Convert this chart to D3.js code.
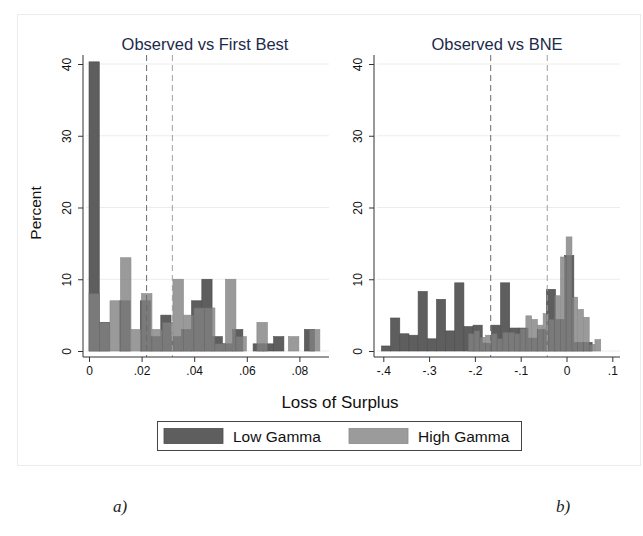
<!DOCTYPE html>
<html lang="en">
<head>
<meta charset="UTF-8">
<title>Loss of Surplus histograms</title>
<script src="https://d3js.org/d3.v7.min.js"></script>
<style>
  body, html { margin: 0; padding: 0; background: #ffffff; }
  svg text { font-family: "Liberation Sans", Arial, sans-serif; }
</style>
</head>
<body>
<div id="chart"></div>
<script>
// ---- data ----
// left panel: Observed vs First Best
var leftLowStart = 0, leftLowWidth = 0.0039;
var leftLowPct = [40.3, 4, 0, 7, 0, 7, 2, 5, 2, 3, 7, 10, 2, 1, 3, 0, 1, 1, 2, 0, 0, 3];
var leftHighStart = 0, leftHighWidth = 0.00399;
var leftHighPct = [8, 4, 7, 13, 3, 8, 3, 4, 10, 5, 6, 6, 1, 10, 2, 0, 4, 0, 0, 2, 0, 3];
var leftRefLines = [0.0219, 0.0317];
var leftTicks = [0, 0.02, 0.04, 0.06, 0.08];

// right panel: Observed vs BNE
var rightLowStart = -0.404, rightLowWidth = 0.02;
var rightLowPct = [0.7, 4.6, 2.4, 2.2, 8.3, 1.7, 7.2, 2.8, 9.5, 3.4, 3.6, 1.1, 3.6, 9.5, 3.2, 3.2, 1.8, 3.0, 8.6, 4.4, 13.3, 1.2, 1.2];
var rightHighStart = -0.2144, rightHighWidth = 0.01257;
var rightHighPct = [2.4, 2.8, 1.9, 2.2, 2.4, 1.7, 2.6, 2.6, 2.4, 3.1, 4.9, 4.4, 3.6, 5.2, 4.4, 7.7, 13.1, 15.9, 7.5, 5.8, 4.7, 0.9, 1.6];
var rightRefLines = [-0.1655, -0.042];
var rightTicks = [-0.4, -0.3, -0.2, -0.1, 0, 0.1];

var yTicks = [0, 10, 20, 30, 40];
var seriesNames = ["Low Gamma", "High Gamma"];

var W = 643, H = 536;
var lowFill = "#5e5e5e", lowStroke = "#4c4c4c";
var highFill = "#828282", highStroke = "#6e6e6e", highOpacity = 0.8;
var titleColor = "#1c2a4c";

var svg = d3.select("#chart").append("svg")
    .attr("width", W).attr("height", H);

// faint outer graph region
svg.append("rect")
    .attr("x", 17.5).attr("y", 14.5)
    .attr("width", 623).attr("height", 451)
    .attr("fill", "#ffffff")
    .attr("stroke", "#ececec");

function fmt(d) {
    if (d === 0) return "0";
    var s = String(+d.toFixed(3));
    return s.replace("0.", ".");
}

// turn a list of percents into bins with edges, dropping empty ones
function toBins(start, width, pct) {
    return pct.map(function(v, i) {
        return {x0: start + i * width, x1: start + (i + 1) * width, v: v};
    }).filter(function(b) { return b.v > 0; });
}

function drawPanel(opt) {
    var x = d3.scaleLinear().domain(opt.xDomain).range(opt.xRange);
    var y = d3.scaleLinear().domain([0, 40]).range([351, 64]);
    var g = svg.append("g");
    var axisLeftX = opt.axisX, axisY = 357;

    // gridlines
    g.selectAll(".grid").data(yTicks).enter().append("line")
        .attr("x1", axisLeftX + 3).attr("x2", opt.plotRight)
        .attr("y1", function(d) { return y(d); })
        .attr("y2", function(d) { return y(d); })
        .attr("stroke", "#ececec").attr("stroke-width", 1);

    // Low Gamma bars
    g.selectAll(".low").data(toBins(opt.lowStart, opt.lowWidth, opt.lowPct)).enter().append("rect")
        .attr("x", function(d) { return x(d.x0); })
        .attr("width", function(d) { return x(d.x1) - x(d.x0); })
        .attr("y", function(d) { return y(d.v); })
        .attr("height", function(d) { return y(0) - y(d.v); })
        .attr("fill", lowFill).attr("stroke", lowStroke).attr("stroke-width", 0.6);

    // High Gamma bars on top, partly see-through
    var hg = g.append("g").attr("opacity", highOpacity);
    hg.selectAll(".high").data(toBins(opt.highStart, opt.highWidth, opt.highPct)).enter().append("rect")
        .attr("x", function(d) { return x(d.x0); })
        .attr("width", function(d) { return x(d.x1) - x(d.x0); })
        .attr("y", function(d) { return y(d.v); })
        .attr("height", function(d) { return y(0) - y(d.v); })
        .attr("fill", highFill).attr("stroke", highStroke).attr("stroke-width", 0.6);

    // reference lines
    g.selectAll(".ref").data(opt.refLines).enter().append("line")
        .attr("x1", function(d) { return x(d); })
        .attr("x2", function(d) { return x(d); })
        .attr("y1", 55).attr("y2", axisY)
        .attr("stroke", function(d, i) { return i === 0 ? "#6a6a6a" : "#a0a0a0"; })
        .attr("stroke-width", 1)
        .attr("stroke-dasharray", "6,4");

    // y axis
    var ya = g.append("g")
        .attr("transform", "translate(" + axisLeftX + ",0)")
        .call(d3.axisLeft(y).tickValues(yTicks).tickSize(5).tickSizeOuter(0).tickFormat(fmt));
    ya.select(".domain").attr("d", "M0,55V" + axisY).attr("stroke", "#333");
    ya.selectAll(".tick line").attr("stroke", "#333");
    ya.selectAll(".tick text")
        .attr("transform", "rotate(-90)")
        .attr("x", 0).attr("y", -12).attr("dy", 0)
        .style("text-anchor", "middle")
        .style("font-size", "12px").attr("fill", "#111");

    // x axis
    var xa = g.append("g")
        .attr("transform", "translate(0," + axisY + ")")
        .call(d3.axisBottom(x).tickValues(opt.xTicks).tickSize(5).tickSizeOuter(0).tickFormat(fmt));
    xa.select(".domain").attr("d", "M" + axisLeftX + ",0H" + opt.plotRight).attr("stroke", "#333");
    xa.selectAll(".tick line").attr("stroke", "#333");
    xa.selectAll(".tick text").attr("y", 9).style("font-size", "12px").attr("fill", "#111");

    // title
    svg.append("text")
        .attr("x", opt.titleX).attr("y", 50)
        .attr("text-anchor", "middle")
        .style("font-size", "16.5px")
        .attr("fill", titleColor)
        .text(opt.title);
}

drawPanel({
    title: "Observed vs First Best", titleX: 205,
    xDomain: [0, 0.08], xRange: [89, 299.4], axisX: 83, plotRight: 329,
    lowStart: leftLowStart, lowWidth: leftLowWidth, lowPct: leftLowPct,
    highStart: leftHighStart, highWidth: leftHighWidth, highPct: leftHighPct,
    refLines: leftRefLines, xTicks: leftTicks
});

drawPanel({
    title: "Observed vs BNE", titleX: 497,
    xDomain: [-0.4, 0.1], xRange: [383.3, 612.3], axisX: 374, plotRight: 620,
    lowStart: rightLowStart, lowWidth: rightLowWidth, lowPct: rightLowPct,
    highStart: rightHighStart, highWidth: rightHighWidth, highPct: rightHighPct,
    refLines: rightRefLines, xTicks: rightTicks
});

// axis titles
svg.append("text")
    .attr("transform", "translate(41,213) rotate(-90)")
    .attr("text-anchor", "middle")
    .style("font-size", "15.5px").attr("fill", "#111")
    .text("Percent");

svg.append("text")
    .attr("x", 340).attr("y", 408)
    .attr("text-anchor", "middle")
    .style("font-size", "17px").attr("fill", "#111")
    .text("Loss of Surplus");

// legend
var legend = svg.append("g");
legend.append("rect")
    .attr("x", 157.5).attr("y", 421.5).attr("width", 364).attr("height", 29)
    .attr("fill", "#fff").attr("stroke", "#444").attr("stroke-width", 1);
var legendX = [164, 349];
var legendColors = [lowFill, d3.interpolateRgb("#ffffff", highFill)(highOpacity)];
var legendStrokes = [lowStroke, "#8a8a8a"];
seriesNames.forEach(function(name, i) {
    legend.append("rect")
        .attr("x", legendX[i]).attr("y", 428.5).attr("width", 59).attr("height", 15)
        .attr("fill", legendColors[i]).attr("stroke", legendStrokes[i]).attr("stroke-width", 0.8);
    legend.append("text")
        .attr("x", legendX[i] + 69).attr("y", 442)
        .style("font-size", "15.5px").attr("fill", "#111")
        .text(name);
});

// panel captions
var captions = [{t: "a)", x: 120}, {t: "b)", x: 563}];
svg.selectAll(".cap").data(captions).enter().append("text")
    .attr("x", function(d) { return d.x; }).attr("y", 512)
    .attr("text-anchor", "middle")
    .style("font-family", "'Liberation Serif', 'DejaVu Serif', serif")
    .style("font-style", "italic")
    .style("font-size", "17px").attr("fill", "#222")
    .text(function(d) { return d.t; });
</script>
</body>
</html>
